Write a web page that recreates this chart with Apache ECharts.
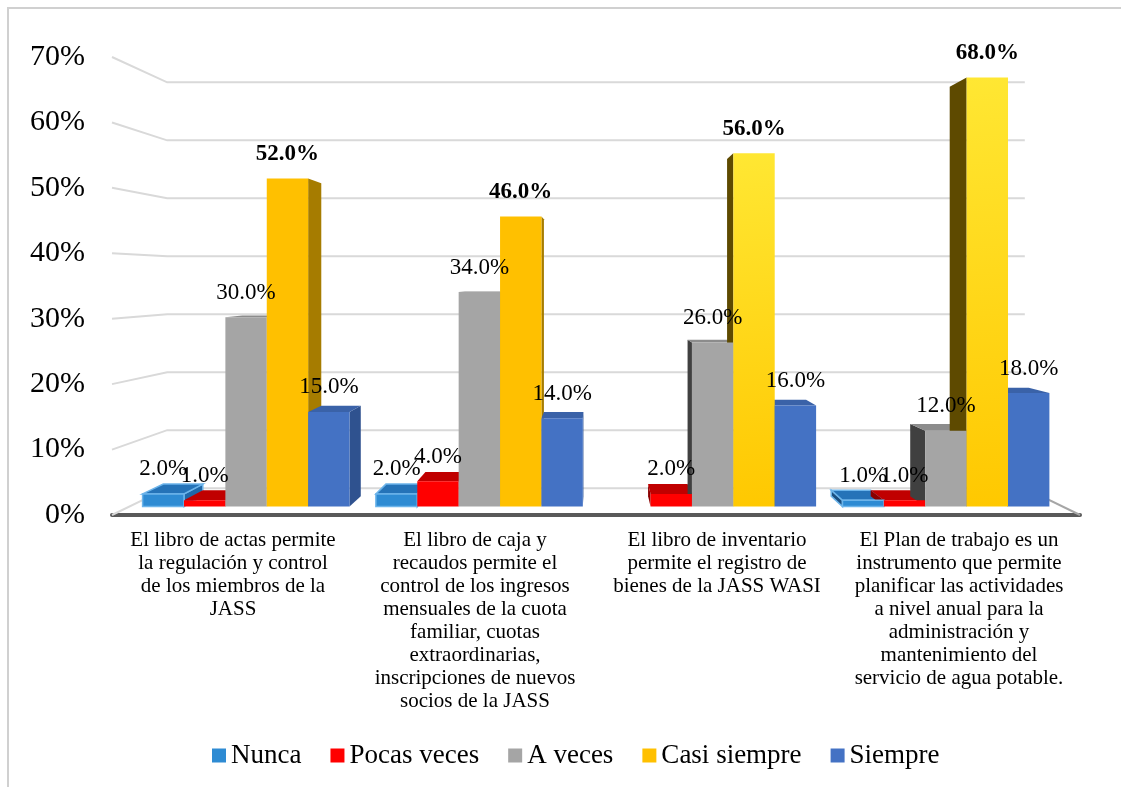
<!DOCTYPE html>
<html>
<head>
<meta charset="utf-8">
<script src="https://cdn.jsdelivr.net/npm/echarts@6/dist/echarts.min.js"></script>
<style>
html, body { margin: 0; padding: 0; background: #fff; }
#main { width: 1121px; height: 787px; }
</style>
</head>
<body>
<div id="main"></div>
<script>
// categorias (texto del eje x, con los saltos de linea del original)
var categories = [
  'El libro de actas permite\nla regulación y control\nde los miembros de la\nJASS',
  'El libro de caja y\nrecaudos permite el\ncontrol de los ingresos\nmensuales de la cuota\nfamiliar, cuotas\nextraordinarias,\ninscripciones de nuevos\nsocios de la JASS',
  'El libro de inventario\npermite el registro de\nbienes de la JASS WASI',
  'El Plan de trabajo es un\ninstrumento que permite\nplanificar las actividades\na nivel anual para la\nadministración y\nmantenimiento del\nservicio de agua potable.'
];
var seriesNames = ['Nunca', 'Pocas veces', 'A veces', 'Casi siempre', 'Siempre'];
var nunca = [2, 2, 0, 1];
var pocasVeces = [1, 4, 2, 1];
var aVeces = [30, 34, 26, 12];
var casiSiempre = [52, 46, 56, 68];
var siempre = [15, 14, 16, 18];
var yTicks = [0, 10, 20, 30, 40, 50, 60, 70];

var values = [nunca, pocasVeces, aVeces, casiSiempre, siempre];

// colores: frente, cara superior, lado derecho, lado izquierdo
var faceColors = [
  { front: '#2E8BD3', top: '#2573B8', sideR: '#2068A8', sideL: '#1B4F80', stroke: '#6CB4EA' },
  { front: '#FF0000', top: '#C00000', sideR: '#B00000', sideL: '#8B0000' },
  { front: '#A5A5A5', top: '#8C8C8C', sideR: '#7F7F7F', sideL: '#404040' },
  { front: '#FFC000', top: '#D9A300', sideR: '#A67C00', sideL: '#5E4A00' },
  { front: '#4472C4', top: '#3A62A8', sideR: '#2F528F', sideL: '#1F3864' }
];
var brightCats = [2, 3]; // barras "casi siempre" con degradado amarillo

// perspectiva (punto de fuga y profundidades relativas al plano frontal)
var VP_VALUE = 36;
var DEPTH = { wall: 0.886, barFront: 0.964, barBack: 0.92 };
var GAP = 0.113;
var FONT = '"Liberation Serif", "Times New Roman", serif';

function vanish(api) {
  return [(api.coord([1, 0])[0] + api.coord([2, 0])[0]) / 2, api.coord([0, VP_VALUE])[1]];
}
function proj(vp, x, y, f) {
  return [vp[0] + (x - vp[0]) * f, vp[1] + (y - vp[1]) * f];
}

function barGeom(api, c, v, s) {
  var base = api.coord([c, 0]);
  var top = api.coord([c, v]);
  var band = api.size([1, 0])[0];
  var groupW = band * (1 - GAP);
  var w = groupW / seriesNames.length;
  var x1 = base[0] - groupW / 2 + s * w;
  var x2 = x1 + w;
  var vp = vanish(api);
  var f = DEPTH.barFront, b = DEPTH.barBack;
  return {
    vp: vp,
    fTL: proj(vp, x1, top[1], f), fTR: proj(vp, x2, top[1], f),
    fBR: proj(vp, x2, base[1], f), fBL: proj(vp, x1, base[1], f),
    bTL: proj(vp, x1, top[1], b), bTR: proj(vp, x2, top[1], b),
    bBR: proj(vp, x2, base[1], b), bBL: proj(vp, x1, base[1], b)
  };
}

function gridRender(params, api) {
  var cs = params.coordSys;
  var vp = vanish(api);
  var y = api.coord([0, api.value(1)])[1];
  var xl = cs.x, xr = cs.x + cs.width;
  var bl = proj(vp, xl, y, DEPTH.wall);
  var br = proj(vp, xr, y, DEPTH.wall);
  var children = [{
    type: 'polyline',
    shape: { points: [[xl, y], bl, br] },
    style: { stroke: '#D9D9D9', lineWidth: 2, fill: null }
  }];
  if (api.value(1) === 0) {
    children.push({
      type: 'line',
      shape: { x1: xr, y1: y, x2: br[0], y2: br[1] },
      style: { stroke: '#A6A6A6', lineWidth: 2 }
    });
  }
  return { type: 'group', children: children };
}

function depthRender(params, api) {
  var c = api.value(0), v = api.value(1), s = api.value(2);
  if (!v) return null;
  var g = barGeom(api, c, v, s);
  var col = faceColors[s];
  var stroke = col.stroke ? { stroke: col.stroke, lineWidth: 1.5 } : {};
  var children = [];
  if (g.vp[0] > g.fTR[0]) {
    children.push({ type: 'polygon', shape: { points: [g.fTR, g.bTR, g.bBR, g.fBR] },
      style: Object.assign({ fill: col.sideR }, stroke) });
  } else if (g.vp[0] < g.fTL[0]) {
    children.push({ type: 'polygon', shape: { points: [g.fTL, g.bTL, g.bBL, g.fBL] },
      style: Object.assign({ fill: col.sideL }, stroke) });
  }
  if (g.vp[1] < g.fTL[1]) {
    children.push({ type: 'polygon', shape: { points: [g.fTL, g.fTR, g.bTR, g.bTL] },
      style: Object.assign({ fill: col.top }, stroke) });
  }
  return { type: 'group', children: children };
}

function frontRender(s) {
  return function (params, api) {
    var c = api.value(0), v = api.value(1);
    if (!v) return null;
    var g = barGeom(api, c, v, s);
    var col = faceColors[s];
    var fill = col.front;
    if (s === 3 && brightCats.indexOf(c) >= 0) {
      fill = new echarts.graphic.LinearGradient(0, 0, 1, 1, [
        { offset: 0, color: '#FFE733' },
        { offset: 1, color: '#FFC800' }
      ]);
    }
    var style = { fill: fill };
    if (col.stroke) { style.stroke = col.stroke; style.lineWidth = 1.5; }
    return {
      type: 'group',
      children: [
        { type: 'polygon', shape: { points: [g.fTL, g.fTR, g.fBR, g.fBL] }, style: style },
        {
          type: 'text', z2: 100,
          style: {
            text: v.toFixed(1) + '%',
            x: (g.fTL[0] + g.fTR[0]) / 2, y: g.fTL[1] - 13,
            align: 'center', verticalAlign: 'bottom',
            fontFamily: FONT, fontSize: 23,
            fontWeight: s === 3 ? 'bold' : 'normal',
            fill: '#000'
          }
        }
      ]
    };
  };
}

var chart = echarts.init(document.getElementById('main'));

var depthData = [];
values.forEach(function (arr, s) {
  arr.forEach(function (v, c) { depthData.push([c, v, s]); });
});

var series = [
  {
    name: 'grid', type: 'custom', renderItem: gridRender, z: 1, silent: true,
    encode: { x: 0, y: 1 }, clip: false,
    data: yTicks.map(function (v) { return [0, v]; })
  },
  {
    name: 'depth', type: 'custom', renderItem: depthRender, z: 2, silent: true,
    encode: { x: 0, y: 1 }, clip: false,
    data: depthData
  }
];
seriesNames.forEach(function (name, s) {
  series.push({
    name: name, type: 'custom', renderItem: frontRender(s), z: 3,
    encode: { x: 0, y: 1 }, clip: false,
    itemStyle: { color: faceColors[s].front },
    data: values[s].map(function (v, c) { return [c, v]; })
  });
});

chart.setOption({
  animation: false,
  backgroundColor: '#fff',
  textStyle: { fontFamily: FONT },
  graphic: [{
    type: 'rect', z: -10, silent: true,
    shape: { x: 8, y: 8, width: 1200, height: 900 },
    style: { fill: null, stroke: '#D0D0D0', lineWidth: 2 }
  }],
  grid: { left: 112, right: 41, top: 57, bottom: 272 },
  legend: {
    data: seriesNames,
    left: 207, top: 737,
    icon: 'rect', itemWidth: 14, itemHeight: 14, itemGap: 29,
    textStyle: { fontFamily: FONT, fontSize: 27, color: '#000' }
  },
  xAxis: {
    type: 'category',
    data: categories,
    axisLine: { lineStyle: { color: '#595959', width: 4 } },
    axisTick: { show: false },
    axisLabel: {
      interval: 0, margin: 14,
      fontFamily: FONT, fontSize: 21, lineHeight: 23, color: '#000'
    },
    splitLine: { show: false }
  },
  yAxis: {
    type: 'value', min: 0, max: 70, interval: 10,
    axisLine: { show: false },
    axisTick: { show: false },
    splitLine: { show: false },
    axisLabel: {
      formatter: '{value}%', margin: 27,
      fontFamily: FONT, fontSize: 30, color: '#000'
    }
  },
  series: series
});
</script>
</body>
</html>
